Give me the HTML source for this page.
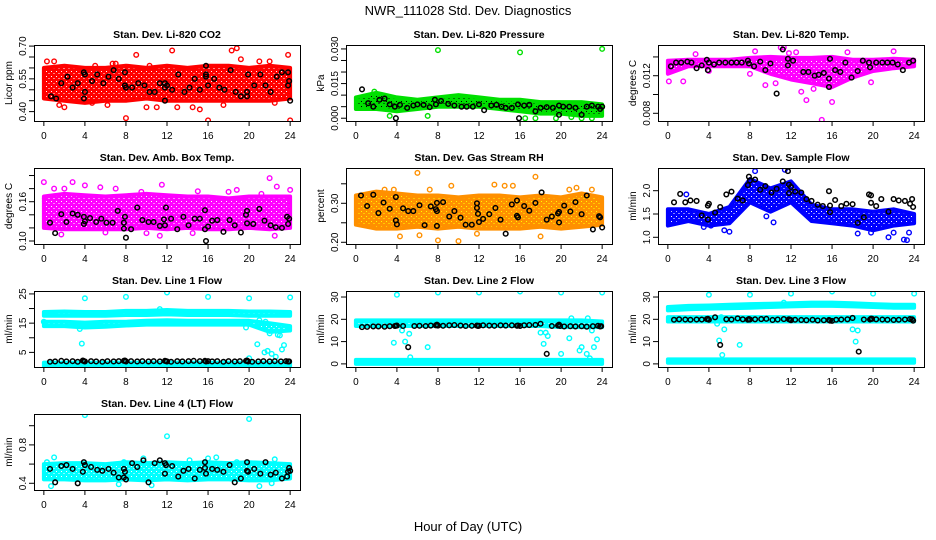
<!DOCTYPE html>
<html><head><meta charset="utf-8"><style>
html,body{margin:0;padding:0;background:#fff;}
svg{display:block;font-family:"Liberation Sans",Arial,sans-serif;}
</style></head><body>
<svg id="chart" width="936" height="540" viewBox="0 0 936 540" xmlns="http://www.w3.org/2000/svg">
<rect x="0" y="0" width="936" height="540" fill="#fff"/>
<text x="468" y="15" font-size="13" text-anchor="middle">NWR_111028  Std. Dev. Diagnostics</text>
<text x="468" y="531" font-size="13" text-anchor="middle">Hour of Day (UTC)</text>
</svg>
<script>
const bandHours=[0,2,4,6,8,10,12,14,16,18,20,22,24];
const xTicks=[0,4,8,12,16,20,24];
const blkX=[0.6,1.1,1.7,2.2,2.8,3.3,3.8,3.9,4,4.6,5.1,5.7,6.2,6.8,7.3,7.8,7.9,8,8.5,9.1,9.6,10.2,10.7,11.3,11.8,11.9,12,12.4,13,13.5,14.1,14.6,15.2,15.7,15.8,16,16.4,16.9,17.5,18,18.6,19.1,19.7,19.8,19.9,20.3,20.9,21.4,22,22.5,23.1,23.6,23.8,23.9];

// Panel 1: CO2
const co2Lo=[0.46,0.45,0.44,0.45,0.45,0.46,0.45,0.45,0.45,0.45,0.45,0.45,0.46];
const co2Hi=[0.60,0.61,0.60,0.60,0.61,0.60,0.61,0.60,0.61,0.61,0.60,0.61,0.60];
const co2Out=[[0.3,0.63],[1,0.63],[2,0.42],[4.7,0.44],[6.2,0.43],[7,0.62],[8,0.37],[9,0.66],[10,0.42],[12.5,0.68],[13,0.42],[14.5,0.42],[15.2,0.41],[16,0.36],[18.3,0.68],[18.8,0.69],[19.2,0.64],[21,0.63],[22,0.63],[22.5,0.44],[23.8,0.66],[24,0.36],[5,0.61],[10.3,0.61],[11,0.42],[6.7,0.62],[1.5,0.43],[17.5,0.43]];
const co2Blk=[[0.7,0.47],[1.2,0.46],[1.7,0.53],[2.3,0.56],[2.8,0.51],[3.3,0.53],[3.9,0.46],[3.9,0.58],[4,0.57],[4,0.49],[4.7,0.54],[5.2,0.57],[5.8,0.53],[6.3,0.56],[6.8,0.59],[7.3,0.55],[7.9,0.58],[8,0.51],[7.9,0.52],[8.6,0.51],[9.2,0.53],[9.8,0.52],[10.3,0.49],[10.8,0.49],[11.3,0.53],[11.8,0.53],[11.8,0.51],[12,0.52],[11.8,0.45],[12.5,0.50],[13.1,0.57],[13.7,0.49],[14.2,0.51],[14.7,0.55],[15.2,0.50],[15.8,0.61],[15.8,0.56],[15.8,0.57],[16,0.52],[16.6,0.55],[17.1,0.51],[17.6,0.50],[18.2,0.59],[18.7,0.49],[19.2,0.47],[19.8,0.47],[19.8,0.49],[19.9,0.57],[20.5,0.52],[21.1,0.57],[21.6,0.52],[22.1,0.49],[22.7,0.56],[23.2,0.58],[23.8,0.58],[23.8,0.52],[23.9,0.54],[24,0.45]];

// Panel 2: pressure
const prsLo=[0.004,0.004,0.003,0.004,0.005,0.005,0.005,0.004,0.003,0.002,0.002,0.001,0.001];
const prsHi=[0.009,0.011,0.009,0.008,0.009,0.010,0.009,0.008,0.008,0.007,0.007,0.007,0.006];
const prsOut=[[8,0.0295],[16,0.0285],[24,0.030],[1.8,0.0115],[3.3,0.001],[7,0.001],[16.5,0],[17.5,0],[19.5,0],[22,0],[23,0],[21,0.0005]];
const prsBlk=[[0.6,0.0125],[1.2,0.0065],[1.7,0.005],[2.3,0.008],[2.8,0.0085],[3.3,0.006],[3.8,0.005],[3.9,0],[4.3,0.0058],[5,0.0045],[5.6,0.0055],[6,0.006],[6.6,0.0058],[7.2,0.0048],[7.7,0.008],[7.8,0.006],[8.3,0.0075],[9,0.0062],[9.6,0.0055],[10.3,0.005],[10.8,0.005],[11.4,0.005],[12,0.006],[12.5,0.0035],[13.2,0.0055],[13.7,0.0058],[14.2,0.005],[14.6,0.0045],[15.2,0.0045],[15.8,0.006],[15.9,0],[16.4,0.0055],[16.9,0.0058],[17.5,0.003],[18,0.0045],[18.6,0.0048],[19.2,0.0045],[19.8,0.0055],[19.8,0.0015],[20.2,0.005],[20.8,0.005],[21.4,0.0045],[22,0.0015],[22.5,0.005],[23,0.0055],[23.6,0.005],[23.8,0.004],[24,0.005]];

// Panel 3: Li-820 temp
const tmpLo=[0.0122,0.0130,0.0130,0.0130,0.0130,0.0122,0.0116,0.0112,0.0108,0.0118,0.0125,0.0128,0.0130];
const tmpHi=[0.0136,0.0137,0.0137,0.0137,0.0139,0.0140,0.0139,0.0139,0.0140,0.0137,0.0137,0.0138,0.0137];
const tmpOut=[[0.1,0.0114],[1.5,0.0114],[2.7,0.0143],[4,0.0125],[8.5,0.0146],[11,0.0150],[11.3,0.0150],[11.8,0.0144],[13,0.0103],[13.5,0.0094],[14.2,0.0106],[15,0.0073],[15.8,0.0108],[16,0.0092],[17.5,0.0145],[22,0.0146],[19.8,0.0113],[9.5,0.0110],[10.5,0.0112],[8,0.0122],[12.5,0.0145]];
const tmpBlk=[[0.3,0.0130],[0.8,0.0134],[1.3,0.0134],[1.9,0.0135],[2.3,0.0134],[2.8,0.0128],[3.3,0.0131],[3.8,0.0137],[3.9,0.0126],[4,0.0134],[4.5,0.0132],[5,0.0134],[5.6,0.0134],[6.2,0.0134],[6.7,0.0134],[7.2,0.0134],[7.8,0.0136],[7.9,0.0133],[8.4,0.0130],[9,0.0135],[9.5,0.0126],[10,0.0133],[10.6,0.0101],[11.2,0.0148],[11.7,0.0131],[11.7,0.0138],[12.2,0.0136],[13.2,0.0124],[13.7,0.0124],[14.3,0.0120],[14.7,0.0121],[15.2,0.0123],[15.7,0.0117],[15.7,0.0108],[15.8,0.0138],[16.3,0.0126],[16.8,0.0124],[17.3,0.0134],[17.9,0.0118],[18.5,0.0125],[19,0.0136],[19.6,0.0134],[19.7,0.0129],[20.3,0.0134],[20.9,0.0134],[21.4,0.0134],[21.9,0.0134],[22.4,0.0132],[22.9,0.0126],[23.5,0.0134],[23.9,0.0136]];

// Panel 4: amb box temp
const ambLo=[0.120,0.118,0.118,0.118,0.118,0.120,0.118,0.120,0.118,0.118,0.120,0.118,0.120];
const ambHi=[0.168,0.172,0.170,0.168,0.170,0.172,0.170,0.168,0.168,0.165,0.168,0.168,0.168];
const ambOut=[[0,0.19],[1,0.18],[2,0.18],[2.8,0.19],[4,0.185],[5.5,0.182],[7,0.18],[9.5,0.175],[11.5,0.186],[15,0.176],[18,0.175],[18.8,0.178],[21.2,0.172],[22,0.196],[22.7,0.183],[24,0.178],[10,0.112],[11.3,0.108],[14.5,0.112],[22.5,0.108],[1.7,0.11],[0.1,0.165],[6,0.113]];
const ambBlk=[[0.6,0.128],[1.1,0.112],[1.7,0.141],[2.2,0.129],[2.8,0.142],[3.3,0.140],[3.9,0.126],[3.9,0.137],[4,0.130],[4.5,0.135],[5.1,0.129],[5.6,0.134],[6.1,0.128],[6.7,0.128],[7.2,0.146],[7.8,0.128],[7.8,0.119],[7.9,0.137],[8,0.105],[8.5,0.118],[9.1,0.151],[9.6,0.132],[10.2,0.129],[10.7,0.129],[11.3,0.123],[11.7,0.133],[11.8,0.124],[11.9,0.151],[12.4,0.134],[13,0.118],[13.6,0.137],[14.1,0.124],[14.7,0.134],[15.2,0.134],[15.7,0.147],[15.7,0.118],[15.8,0.100],[16,0.122],[16.4,0.131],[16.9,0.132],[17.5,0.114],[18.1,0.132],[18.6,0.124],[19.2,0.113],[19.7,0.140],[19.8,0.146],[19.8,0.127],[20.4,0.126],[21,0.149],[21.5,0.131],[22.1,0.124],[22.6,0.121],[23.2,0.120],[23.7,0.137],[23.8,0.126],[23.9,0.134]];

// Panel 5: gas stream RH
const rhLo=[0.245,0.235,0.235,0.240,0.235,0.240,0.235,0.235,0.235,0.240,0.235,0.240,0.245];
const rhHi=[0.320,0.330,0.325,0.320,0.320,0.315,0.320,0.320,0.315,0.320,0.315,0.325,0.315];
const rhOut=[[6,0.378],[7.2,0.335],[9.3,0.345],[13.5,0.348],[15.3,0.345],[17.5,0.368],[20.8,0.335],[21.5,0.340],[23,0.335],[8,0.205],[10,0.203],[4.3,0.215],[6.2,0.218],[18,0.215],[11.8,0.222],[2.8,0.335],[3.7,0.335],[14.5,0.345]];
const rhBlk=[[0.5,0.320],[1.1,0.293],[1.7,0.322],[2.2,0.275],[2.7,0.302],[3.3,0.286],[3.9,0.256],[3.9,0.316],[4,0.246],[4.6,0.287],[5.1,0.280],[5.6,0.280],[6.2,0.295],[6.7,0.244],[7.3,0.292],[7.9,0.301],[7.8,0.285],[7.9,0.280],[7.9,0.242],[8.5,0.303],[9.1,0.266],[9.6,0.280],[10.2,0.263],[10.7,0.245],[11.3,0.245],[11.8,0.300],[11.8,0.288],[11.9,0.273],[12,0.252],[12.4,0.260],[13,0.272],[13.6,0.288],[14.1,0.258],[14.6,0.222],[15.2,0.297],[15.7,0.307],[15.7,0.268],[15.8,0.264],[16.4,0.293],[16.9,0.281],[17.5,0.301],[18.1,0.328],[18.6,0.258],[19.1,0.266],[19.7,0.274],[19.8,0.251],[19.8,0.278],[20.3,0.294],[20.9,0.279],[21.4,0.303],[22,0.272],[22.5,0.320],[23.1,0.233],[23.7,0.267],[23.8,0.264],[24,0.238]];

// Panel 6: sample flow
const sfLo=[1.25,1.35,1.25,1.30,1.75,1.55,1.75,1.35,1.30,1.25,1.15,1.25,1.30];
const sfHi=[1.60,1.60,1.50,1.65,2.25,2.05,2.20,1.70,1.60,1.60,1.55,1.60,1.50];
const sfOut=[[5.5,1.15],[6,1.12],[8.5,2.42],[9.6,1.45],[10.3,1.32],[11.4,2.45],[18.5,1.08],[19.8,1.10],[21.5,1.0],[22,1.1],[23,0.95],[23.3,0.94],[23.5,1.1],[1.8,1.92],[3.5,1.22],[4.2,1.25]];
const sfBlk=[[0.6,1.75],[1.2,1.93],[1.7,1.75],[2.2,1.79],[2.8,1.78],[3.3,1.47],[3.9,1.38],[3.9,1.68],[4,1.72],[4.6,1.53],[5.1,1.65],[5.7,1.92],[6.2,1.98],[6.8,1.83],[7.3,1.79],[7.8,2.12],[7.9,2.30],[8,2.22],[8.5,2.24],[9,2.02],[9.5,2.10],[10.1,1.96],[10.6,2.04],[11.2,2.20],[11.7,2.42],[11.8,1.95],[11.8,2.13],[12,2.08],[12.4,1.98],[13,1.96],[13.5,1.82],[14,1.78],[14.6,1.70],[15.1,1.67],[15.7,1.99],[15.8,1.54],[15.8,1.68],[16.3,1.80],[16.9,1.67],[17.4,1.72],[18,1.71],[18.5,1.31],[19.1,1.43],[19.6,1.92],[19.8,1.90],[19.8,1.74],[20.3,1.67],[20.8,1.82],[21.5,1.55],[22,1.82],[22.5,1.79],[23.1,1.78],[23.6,1.72],[23.8,1.82],[23.9,1.65]];

// Panel 7: Line 1 flow
const l1aLo=[17.5,17.5,17.5,17.5,17.8,17.8,18,17.8,17.8,17.8,17.5,17.5,17.5];
const l1aHi=[18.8,19,18.8,18.8,19.2,19.2,19.5,19.2,19.2,19.2,19,19,18.8];
const l1bLo=[14,14,13.5,13.8,14.2,14.5,14.5,14.5,14.5,14.5,14.5,12,12.5];
const l1bHi=[15.5,15.5,15.2,15.5,15.5,15.8,16,15.8,15.8,15.8,15.8,15,14];
const l1cLo=[0.3,0.3,0.3,0.3,0.3,0.3,0.3,0.3,0.3,0.3,0.3,0.3,0.3];
const l1cHi=[1.5,1.5,1.5,1.5,1.5,1.5,1.5,1.5,1.5,1.5,1.5,1.5,1.5];
const l1Out=[[0,15.5],[3.7,8],[4,23.5],[8,24],[12,25.5],[16,24],[20,23.5],[24,23.8],[20.8,7.8],[21.5,5],[21.8,5.5],[22.2,4.5],[22.6,3.5],[23.2,6],[23.4,7.5],[22,11.5],[22.8,11],[23,10.8],[21,16],[21.6,15.5],[20.5,15],[19.7,13.5],[3.5,13],[20,3],[11.3,19.8]];
const l1BlkY=[1.8,1.9,2.1,1.9,2.0,1.8,2.2,2.0,1.9,2.0,1.9,1.8,2.0,1.9,2.0,2.1,2.2,1.9,2.0,1.9,2.0,1.9,2.0,1.9,2.1,2.0,1.9,1.8,2.0,1.9,2.0,2.1,2.0,2.1,1.9,2.0,1.9,2.0,1.8,2.0,1.9,2.0,2.1,2.2,1.9,1.8,1.9,2.0,1.9,2.0,1.9,2.0,1.9,1.9];

// Panel 8: Line 2 flow
const l2aLo=[17,17,17,17,17,17,17,17,17,17,16.5,16.5,16.5];
const l2aHi=[19.5,19.5,19.5,19.5,19.5,19.5,19.5,19.5,19.5,19.5,19.5,19.5,19];
const l2cLo=[0,0,0,0,0,0,0,0,0,0,0,0,0];
const l2cHi=[1.8,1.8,1.8,1.8,1.8,1.8,1.8,1.8,1.8,1.8,1.8,1.8,1.8];
const l2Out=[[4,31],[8,32],[12,32],[16,32.5],[20,32],[24,32],[3.7,9.5],[4.8,10],[5.2,13.5],[5.3,3],[4.5,15],[7,7.5],[18.3,9],[18,14],[18.5,14],[18.7,12.5],[20,4.5],[20.8,11.5],[21.8,6],[22,7.5],[22.5,4.5],[22.6,20.5],[21,20.5],[23.2,7.5],[23.5,11],[23,15],[22.8,2.5]];
const l2BlkY=[16.5,16.6,16.8,16.8,16.7,16.9,17.0,17.1,17.2,17.0,7.5,17.0,17.1,17.0,17.2,17.3,17.6,17.2,17.1,17.3,17.4,17.2,17.0,17.1,17.2,17.0,17.1,17.3,17.2,17.1,17.3,17.2,17.3,17.1,17.2,17.0,17.3,17.4,17.5,18.0,4.5,17.0,17.2,17.6,17.0,16.8,16.9,16.8,16.9,16.7,16.9,17.1,16.8,16.9];

// Panel 9: Line 3 flow
const l3aLo=[24,24.5,24.8,25,25.2,25.5,25.8,26,26,25.8,25.5,25.2,25.2];
const l3aHi=[25.5,26,26.2,26.5,26.8,27,27.2,27.5,27.5,27.2,26.8,26.5,26.5];
const l3bLo=[19,19,19,19,19,19,19,19,19,19,19,19,19];
const l3bHi=[21,21,21,21,21,21,21,21,21,21,21,21,21];
const l3cLo=[0.5,0.5,0.5,0.5,0.5,0.5,0.5,0.5,0.5,0.5,0.5,0.5,0.5];
const l3cHi=[2,2,2,2,2,2,2,2,2,2,2,2,2];
const l3Out=[[4,31],[8,31],[12,31.5],[16,32.5],[20,31.5],[24,31.5],[4.8,18],[5,10.5],[5.3,4],[5.5,15.5],[7,8.5],[18,15.5],[18.3,10],[18.5,15],[11.3,27.5],[5.2,21]];
const l3BlkY=[19.8,20.0,19.9,19.8,19.9,19.9,20.1,20.2,19.8,20.9,8.5,20.0,19.9,20.4,20.0,19.8,20.1,19.9,20.0,20.1,20.2,19.7,19.9,20.1,20.0,19.8,19.6,19.8,19.7,19.6,19.8,19.5,19.6,19.7,19.4,19.3,19.8,19.9,20.0,20.6,5.5,19.9,19.9,20.3,20.2,20.0,19.9,19.8,19.7,19.8,19.9,20.1,20.0,19.4];

// Panel 10: Line 4 (LT) flow
const l4Lo=[0.44,0.44,0.43,0.43,0.44,0.43,0.44,0.43,0.44,0.44,0.43,0.43,0.45];
const l4Hi=[0.60,0.61,0.61,0.60,0.62,0.61,0.62,0.61,0.62,0.61,0.62,0.61,0.60];
const l4Out=[[0.3,0.62],[1,0.67],[0.7,0.37],[4,1.11],[7.8,0.62],[9.7,0.66],[10.5,0.38],[12,0.89],[14.2,0.64],[16.8,0.67],[16,0.66],[18.8,0.62],[20,1.07],[21,0.37],[22.2,0.40],[22.5,0.65],[7.3,0.39]];
const l4Blk=[[0.6,0.55],[1.1,0.41],[1.7,0.58],[2.2,0.59],[2.8,0.55],[3.3,0.40],[3.8,0.52],[3.9,0.62],[4,0.59],[4.6,0.57],[5.2,0.54],[5.7,0.53],[6.3,0.55],[6.8,0.51],[7.3,0.46],[7.8,0.46],[7.8,0.55],[7.9,0.52],[8,0.44],[8.6,0.61],[9.1,0.57],[9.7,0.64],[10.2,0.41],[10.8,0.61],[11.3,0.64],[11.8,0.61],[11.8,0.50],[11.9,0.59],[12.5,0.58],[13.1,0.47],[13.6,0.53],[14.1,0.55],[14.7,0.45],[15.2,0.54],[15.7,0.62],[15.7,0.56],[15.8,0.50],[16.4,0.55],[16.9,0.54],[17.5,0.52],[18.1,0.59],[18.6,0.41],[19.2,0.45],[19.8,0.62],[19.8,0.53],[19.9,0.52],[20.5,0.55],[21.1,0.50],[21.6,0.62],[22.1,0.49],[22.6,0.51],[23.2,0.45],[23.7,0.47],[23.8,0.52],[23.9,0.56],[24,0.53]];

const NS="http://www.w3.org/2000/svg";
const svg=document.getElementById('chart');
function mk(tag,attrs,parent){const e=document.createElementNS(NS,tag);for(const k in attrs)e.setAttribute(k,attrs[k]);(parent||svg).appendChild(e);return e;}
function zip(xs,ys){return xs.map((x,i)=>[x,ys[i]]);}

const BW=266,BH=76;
const panels=[
 {name:'li820-co2',title:'Stan. Dev. Li-820 CO2',ylab:'Licor ppm',col:0,row:0,dom:[0.357,0.705],ticks:[0.40,0.45,0.50,0.55,0.60,0.65,0.70],labels:[0.40,0.55,0.70],fmt:2,color:'#ff0000',speck:'#ffffff',bands:[[co2Lo,co2Hi]],out:co2Out,blk:co2Blk},
 {name:'li820-pressure',title:'Stan. Dev. Li-820 Pressure',ylab:'kPa',col:1,row:0,dom:[-0.0012,0.0317],ticks:[0,0.005,0.010,0.015,0.020,0.025,0.030],labels:[0,0.015,0.030],fmt:3,color:'#00e000',speck:'#000000',bands:[[prsLo,prsHi]],out:prsOut,blk:prsBlk},
 {name:'li820-temp',title:'Stan. Dev. Li-820 Temp.',ylab:'degrees C',col:2,row:0,dom:[0.00718,0.01527],ticks:[0.008,0.010,0.012,0.014],labels:[0.008,0.012],fmt:3,color:'#ff00ff',speck:'#ffffff',bands:[[tmpLo,tmpHi]],out:tmpOut,blk:tmpBlk},
 {name:'amb-box-temp',title:'Stan. Dev. Amb. Box Temp.',ylab:'degrees C',col:0,row:1,dom:[0.0954,0.2115],ticks:[0.10,0.12,0.14,0.16,0.18,0.20],labels:[0.10,0.16],fmt:2,color:'#ff00ff',speck:'#ffffff',bands:[[ambLo,ambHi]],out:ambOut,blk:ambBlk},
 {name:'gas-stream-rh',title:'Stan. Dev. Gas Stream RH',ylab:'percent',col:1,row:1,dom:[0.1956,0.3905],ticks:[0.20,0.25,0.30,0.35],labels:[0.20,0.30],fmt:2,color:'#ff9000',speck:'#ffff00',bands:[[rhLo,rhHi]],out:rhOut,blk:rhBlk},
 {name:'sample-flow',title:'Stan. Dev. Sample Flow',ylab:'ml/min',col:2,row:1,dom:[0.856,2.487],ticks:[1.0,1.5,2.0],labels:[1.0,1.5,2.0],fmt:1,color:'#0000ff',speck:'#ffffff',bands:[[sfLo,sfHi]],out:sfOut,blk:sfBlk},
 {name:'line1-flow',title:'Stan. Dev. Line 1 Flow',ylab:'ml/min',col:0,row:2,dom:[0,26],ticks:[5,10,15,20,25],labels:[5,15,25],fmt:0,color:'#00ffff',speck:'#ffffff',bands:[[l1aLo,l1aHi],[l1bLo,l1bHi],[l1cLo,l1cHi]],out:l1Out,blk:zip(blkX,l1BlkY)},
 {name:'line2-flow',title:'Stan. Dev. Line 2 Flow',ylab:'ml/min',col:1,row:2,dom:[-1.4,32.7],ticks:[0,10,20,30],labels:[0,10,20,30],fmt:0,color:'#00ffff',speck:'#ffffff',bands:[[l2aLo,l2aHi],[l2cLo,l2cHi]],out:l2Out,blk:zip(blkX,l2BlkY)},
 {name:'line3-flow',title:'Stan. Dev. Line 3 Flow',ylab:'ml/min',col:2,row:2,dom:[-1.4,32.7],ticks:[0,10,20,30],labels:[0,10,20,30],fmt:0,color:'#00ffff',speck:'#ffffff',bands:[[l3aLo,l3aHi],[l3bLo,l3bHi],[l3cLo,l3cHi]],out:l3Out,blk:zip(blkX,l3BlkY)},
 {name:'line4-flow',title:'Stan. Dev. Line 4 (LT) Flow',ylab:'ml/min',col:0,row:3,dom:[0.330,1.122],ticks:[0.4,0.6,0.8,1.0],labels:[0.4,0.8],fmt:1,color:'#00ffff',speck:'#ffffff',bands:[[l4Lo,l4Hi]],out:l4Out,blk:l4Blk}
];

const defs=mk('defs',{});
panels.forEach((p,pi)=>{
 const bx=34+p.col*312, by=45+p.row*123;
 const xs=h=>bx+BW*(h+0.96)/25.92;
 const ys=v=>by+BH-BH*(v-p.dom[0])/(p.dom[1]-p.dom[0]);
 const pat=mk('pattern',{id:'pat'+pi,width:5,height:5,patternUnits:'userSpaceOnUse'},defs);
 mk('rect',{x:0,y:0,width:5,height:5,fill:p.color},pat);
 mk('rect',{x:1,y:1,width:1,height:1,fill:p.speck},pat);
 mk('rect',{x:3.5,y:3,width:1,height:1,fill:p.speck},pat);
 const g=mk('g',{});
 
 
 const cid='clip'+pi;
 const cp=mk('clipPath',{id:cid},g); mk('rect',{x:bx,y:by,width:BW,height:BH},cp);
 const t=mk('text',{x:bx+BW/2,y:by-7,'font-size':10.5,'font-weight':'bold','text-anchor':'middle'},g);
 t.textContent=p.title;
 
 
 const yl=mk('text',{x:0,y:0,'font-size':10,'text-anchor':'middle',transform:`translate(${bx-22},${by+BH/2}) rotate(-90)`},g);
 yl.textContent=p.ylab;
 
 
 const plot=mk('g',{'clip-path':`url(#${cid})`},g);
 
 
 p.bands.forEach(b=>{
  const pts=bandHours.map((h,i)=>xs(h).toFixed(1)+','+ys(b[1][i]).toFixed(1)).concat(bandHours.map((h,i)=>xs(h).toFixed(1)+','+ys(b[0][i]).toFixed(1)).reverse());
  const poly=mk('polygon',{points:pts.join(' '),fill:'url(#pat'+pi+')',stroke:p.color,'stroke-width':4,'stroke-linejoin':'round'},plot);
  
  
 });
 p.out.forEach(d=>{
  const c=mk('circle',{cx:xs(d[0]),cy:ys(d[1]),r:2.3,fill:'none',stroke:p.color,'stroke-width':1.4},plot);
  
  
 });
 p.blk.forEach(d=>{
  const c=mk('circle',{cx:xs(d[0]),cy:ys(d[1]),r:2.3,fill:'none',stroke:'#000','stroke-width':1.5},plot);
  
  
 });
 const box=mk('rect',{x:bx+0.5,y:by+0.5,width:BW,height:BH,fill:'none',stroke:'#000','stroke-width':1},g);
 
 
 xTicks.forEach(h=>{
  mk('line',{x1:xs(h),x2:xs(h),y1:by+BH,y2:by+BH+5,stroke:'#000'},g);
  const tl=mk('text',{x:xs(h),y:by+BH+18,'font-size':10,'text-anchor':'middle'},g);
  tl.textContent=h;
  
  
 });
 p.ticks.forEach(v=>{
  mk('line',{x1:bx-5,x2:bx,y1:ys(v),y2:ys(v),stroke:'#000'},g);
 });
 p.labels.forEach(v=>{
  const tl=mk('text',{x:0,y:0,'font-size':10,'text-anchor':'middle',transform:`translate(${bx-8},${ys(v)}) rotate(-90)`},g);
  tl.textContent=v.toFixed(p.fmt);
  
  
 });
});
</script>
</body></html>
